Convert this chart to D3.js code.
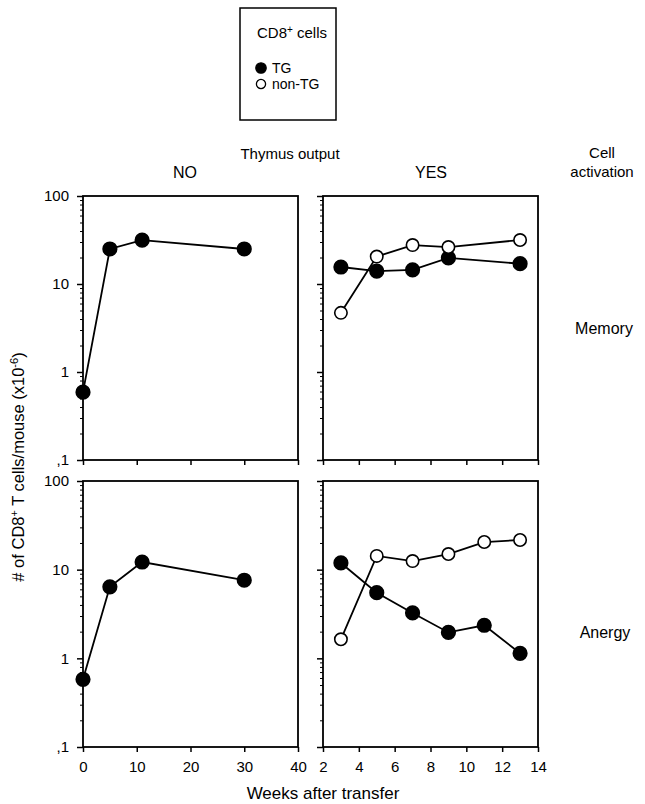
<!DOCTYPE html>
<html>
<head>
<meta charset="utf-8">
<script src="https://cdn.jsdelivr.net/npm/d3@7"></script>
<style>
  body { margin: 0; background: #fff; }
  svg text { font-family: "Liberation Sans", Arial, Helvetica, sans-serif; fill: #000; }
</style>
</head>
<body>
<svg id="chart" width="645" height="804"></svg>
<script>
// data (cells x1e6 per mouse, weeks after transfer)
const weeksNo = [0, 5, 11, 30];
const tgNoMemory = [0.59, 25, 31.5, 25];
const tgNoAnergy = [0.58, 6.4, 12.2, 7.6];

const weeksYesMemory = [3, 5, 7, 9, 13];
const tgYesMemory = [15.6, 14, 14.5, 19.8, 17];
const nonTgYesMemory = [4.7, 20.5, 27.7, 26.3, 31.6];

const weeksYesAnergy = [3, 5, 7, 9, 11, 13];
const tgYesAnergy = [11.9, 5.5, 3.25, 1.96, 2.36, 1.14];
const nonTgYesAnergy = [1.64, 14.3, 12.5, 15, 20.5, 21.6];

const xTicksNo = [0, 10, 20, 30, 40];
const xTicksYes = [2, 4, 6, 8, 10, 12, 14];
const yMajor = [0.1, 1, 10, 100];
const yMajorLabels = [",1", "1", "10", "100"];

const svg = d3.select("#chart");

// panel boxes
const cols = [{x0: 83, x1: 298, domain: [0, 40], ticks: xTicksNo},
              {x0: 323, x1: 538, domain: [2, 14], ticks: xTicksYes}];
const rows = [{y0: 196, y1: 460}, {y0: 481, y1: 747}];

const panels = [
  {col: 0, row: 0, series: [{x: weeksNo, y: tgNoMemory, filled: true}]},
  {col: 1, row: 0, series: [{x: weeksYesMemory, y: tgYesMemory, filled: true},
                            {x: weeksYesMemory, y: nonTgYesMemory, filled: false}]},
  {col: 0, row: 1, series: [{x: weeksNo, y: tgNoAnergy, filled: true}]},
  {col: 1, row: 1, series: [{x: weeksYesAnergy, y: tgYesAnergy, filled: true},
                            {x: weeksYesAnergy, y: nonTgYesAnergy, filled: false}]}
];

// minor log ticks 2..9 in each decade
const yMinor = [];
[0.1, 1, 10].forEach(d => { for (let k = 2; k <= 9; k++) yMinor.push(d * k); });

panels.forEach(p => {
  const c = cols[p.col], r = rows[p.row];
  const x = d3.scaleLinear().domain(c.domain).range([c.x0, c.x1]);
  const y = d3.scaleLog().domain([0.1, 100]).range([r.y1, r.y0]);
  const g = svg.append("g");

  // minor y ticks
  g.append("g")
    .attr("transform", `translate(${c.x0},0)`)
    .call(d3.axisLeft(y).tickValues(yMinor).tickSize(3).tickFormat(""))
    .call(a => a.select(".domain").remove())
    .selectAll("line").attr("stroke-width", 1);

  // major y ticks
  const yAx = d3.axisLeft(y).tickValues(yMajor).tickSize(6).tickPadding(8)
    .tickFormat((d, i) => p.col === 0 ? yMajorLabels[i] : "");
  g.append("g")
    .attr("transform", `translate(${c.x0},0)`)
    .call(yAx)
    .call(a => a.select(".domain").remove())
    .call(a => a.selectAll("text").style("font-size", "15px"))
    .selectAll("line").attr("stroke-width", 1.5);

  // x ticks
  const xAx = d3.axisBottom(x).tickValues(c.ticks).tickSize(5).tickPadding(9)
    .tickFormat(p.row === 1 ? d3.format("d") : "");
  g.append("g")
    .attr("transform", `translate(0,${r.y1})`)
    .call(xAx)
    .call(a => a.select(".domain").remove())
    .call(a => a.selectAll("text").style("font-size", "15px"))
    .selectAll("line").attr("stroke-width", 1.5);

  // frame
  g.append("rect")
    .attr("x", c.x0).attr("y", r.y0)
    .attr("width", c.x1 - c.x0).attr("height", r.y1 - r.y0)
    .attr("fill", "none").attr("stroke", "#000").attr("stroke-width", 1.8);

  const line = d3.line().x(d => x(d[0])).y(d => y(d[1]));
  p.series.forEach(s => {
    const pts = s.x.map((v, i) => [v, s.y[i]]);
    g.append("path").datum(pts)
      .attr("d", line).attr("fill", "none")
      .attr("stroke", "#000").attr("stroke-width", 1.8);
  });
  p.series.forEach(s => {
    const pts = s.x.map((v, i) => [v, s.y[i]]);
    g.selectAll(null).data(pts).enter().append("circle")
      .attr("cx", d => x(d[0])).attr("cy", d => y(d[1]))
      .attr("r", s.filled ? 6.8 : 6.2)
      .attr("fill", s.filled ? "#000" : "#fff")
      .attr("stroke", "#000").attr("stroke-width", 1.6);
  });
});

// headings
const txt = (x, y, s, size, anchor) => svg.append("text")
  .attr("x", x).attr("y", y).attr("text-anchor", anchor || "middle")
  .style("font-size", size + "px").text(s);

txt(290, 159, "Thymus output", 15);
txt(185, 178, "NO", 16);
txt(431, 178, "YES", 16);
txt(602, 158, "Cell", 15);
txt(602, 177, "activation", 15);
txt(604, 334, "Memory", 16);
txt(605, 638, "Anergy", 16);
txt(323, 799, "Weeks after transfer", 17);

// y axis title
const yt = svg.append("text")
  .attr("transform", "translate(24,467) rotate(-90)")
  .attr("text-anchor", "middle")
  .style("font-size", "16.5px");
yt.append("tspan").text("# of CD8");
yt.append("tspan").attr("baseline-shift", "super").style("font-size", "11px").text("+");
yt.append("tspan").text(" T cells/mouse (x10");
yt.append("tspan").attr("baseline-shift", "super").style("font-size", "11px").text("-6");
yt.append("tspan").text(")");

// legend box
svg.append("rect")
  .attr("x", 240).attr("y", 8).attr("width", 96).attr("height", 112)
  .attr("fill", "#fff").attr("stroke", "#000").attr("stroke-width", 1.5);
const lt = svg.append("text").attr("x", 257).attr("y", 38).style("font-size", "15px");
lt.append("tspan").text("CD8");
lt.append("tspan").attr("baseline-shift", "super").style("font-size", "10px").text("+");
lt.append("tspan").text(" cells");

const legendItems = [{label: "TG", filled: true}, {label: "non-TG", filled: false}];
const lg = svg.append("g").selectAll("g").data(legendItems).enter().append("g")
  .attr("transform", (d, i) => `translate(261,${68 + i * 16})`);
lg.append("circle").attr("r", d => d.filled ? 5.2 : 4.6)
  .attr("fill", d => d.filled ? "#000" : "#fff")
  .attr("stroke", "#000").attr("stroke-width", 1.3);
lg.append("text").attr("x", 11).attr("y", 5).style("font-size", "14px").text(d => d.label);
</script>
</body>
</html>
